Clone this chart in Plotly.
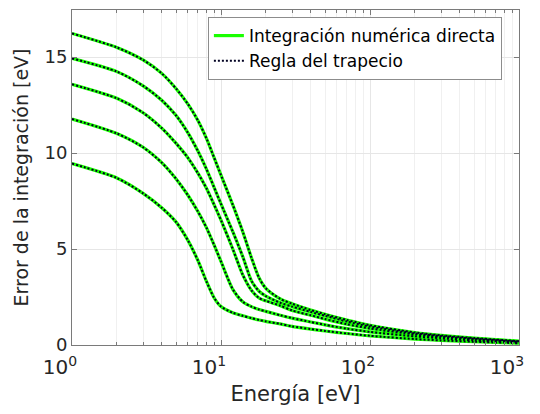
import plotly.graph_objects as go

energia = [1, 2, 3, 4, 5, 6, 7, 8, 9, 10, 12, 14, 16, 18, 20, 25, 30, 40, 50, 70, 100, 200, 300, 500, 1000]

curva_1 = [9.45, 8.7, 7.9, 7.15, 6.4, 5.45, 4.4, 3.3, 2.45, 2.0, 1.68, 1.52, 1.4, 1.3, 1.23, 1.1, 0.97, 0.83, 0.73, 0.6, 0.48, 0.31, 0.24, 0.17, 0.09]
curva_2 = [11.77, 11.02, 10.3, 9.5, 8.65, 7.8, 6.95, 6.1, 5.2, 4.35, 2.9, 2.25, 2.0, 1.85, 1.75, 1.55, 1.4, 1.2, 1.05, 0.85, 0.68, 0.45, 0.35, 0.24, 0.13]
curva_3 = [13.58, 12.85, 12.1, 11.3, 10.5, 9.75, 8.95, 8.15, 7.3, 6.5, 5.0, 3.65, 2.85, 2.45, 2.3, 2.05, 1.8, 1.55, 1.35, 1.08, 0.86, 0.55, 0.42, 0.3, 0.16]
curva_4 = [14.93, 14.24, 13.5, 12.75, 11.95, 11.05, 10.1, 9.15, 8.2, 7.35, 5.9, 4.6, 3.35, 2.8, 2.55, 2.2, 2.0, 1.72, 1.52, 1.22, 0.96, 0.61, 0.47, 0.33, 0.18]
curva_5 = [16.23, 15.5, 14.85, 14.15, 13.35, 12.55, 11.7, 10.75, 9.75, 8.85, 7.3, 5.9, 4.55, 3.5, 2.95, 2.4, 2.15, 1.82, 1.6, 1.3, 1.03, 0.65, 0.5, 0.36, 0.2]

curvas = [curva_1, curva_2, curva_3, curva_4, curva_5]

x_tickvals = [1, 10, 100, 1000]
x_ticktext = ["10<sup>0</sup>", "10<sup>1</sup>", "10<sup>2</sup>", "10<sup>3</sup>"]
x_minor = [m * d for d in (1, 10, 100) for m in range(2, 10)]
y_tickvals = [0, 5, 10, 15]

nombre_directa = "Integración numérica directa"
nombre_trapecio = "Regla del trapecio"

fig = go.Figure()
for i, c in enumerate(curvas):
    fig.add_trace(go.Scatter(
        x=energia, y=c, mode="lines", name=nombre_directa,
        legendgroup="d", showlegend=(i == 0),
        line=dict(color="#1aff00", width=3.2, shape="spline", smoothing=0.7)))
for i, c in enumerate(curvas):
    fig.add_trace(go.Scatter(
        x=energia, y=c, mode="lines", name=nombre_trapecio,
        legendgroup="t", showlegend=(i == 0),
        line=dict(color="#000022", width=2, dash="2px,2px", shape="spline", smoothing=0.7)))

axis_col = "#7a7a7a"
grid_col = "#e6e6e6"
font = "DejaVu Sans"

# the page body adds an 8px offset, so the figure is sized to fit the window
fig.update_layout(
    width=532, height=406,
    margin=dict(l=64, r=21, t=2, b=69),
    paper_bgcolor="white", plot_bgcolor="white",
    font=dict(family=font, size=18, color="#262626"),
    showlegend=True,
    legend=dict(
        x=0.304, y=0.979, xanchor="left", yanchor="top",
        bgcolor="white", bordercolor="#8c8c8c", borderwidth=1,
        font=dict(family=font, size=17, color="#000000"),
        tracegroupgap=0, itemwidth=30,
    ),
    xaxis=dict(
        type="log", range=[0, 3], automargin=False,
        tickmode="array", tickvals=x_tickvals, ticktext=x_ticktext,
        ticklabeloverflow="allow", ticklabelshift=-12, ticklabelstandoff=4,
        ticks="inside", ticklen=5, tickcolor=axis_col,
        showline=True, linecolor=axis_col, linewidth=1, mirror="ticks",
        showgrid=True, gridcolor=grid_col, gridwidth=1,
        zeroline=False,
        tickfont=dict(family=font, size=20, color="#262626"),
        title=dict(text="Energía [eV]", font=dict(family=font, size=21, color="#262626"), standoff=8),
        minor=dict(tickmode="array", tickvals=x_minor, ticks="inside", ticklen=3,
                   tickcolor=axis_col, showgrid=True, gridcolor="#f0f0f0", gridwidth=1),
    ),
    yaxis=dict(
        range=[0, 17.45], automargin=False,
        tickmode="array", tickvals=y_tickvals,
        ticks="inside", ticklen=5, tickcolor=axis_col,
        showline=True, linecolor=axis_col, linewidth=1, mirror="ticks",
        showgrid=True, gridcolor=grid_col, gridwidth=1,
        zeroline=False,
        tickfont=dict(family=font, size=18, color="#262626"),
        title=dict(text="Error de la integración [eV]", font=dict(family=font, size=19, color="#262626"), standoff=10),
    ),
)

fig.write_html("out.html")
